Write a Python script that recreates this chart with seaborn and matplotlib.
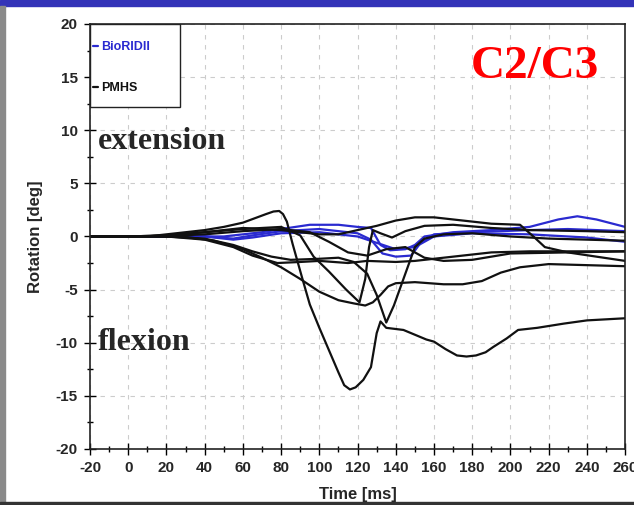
import numpy as np
import pandas as pd
import matplotlib
matplotlib.use("Agg")
import matplotlib.pyplot as plt
import seaborn as sns
from matplotlib.patches import Rectangle
from matplotlib.ticker import MultipleLocator

# ---------------- data ----------------
groups = ["BioRIDII", "PMHS"]
colors = {"BioRIDII": "#2a2ad0", "PMHS": "#111111"}

# PMHS curves
pmhs_a_t = [-20, 0, 10, 20, 30, 40, 50, 60, 66, 72, 76, 79, 81, 83, 86, 91, 95, 100, 105, 110, 113, 116, 119, 123, 127, 130, 132, 135, 144, 156, 160, 166, 172, 177, 182, 187, 191, 198, 204, 214, 228, 240, 260]
pmhs_a_v = [0, 0, 0, 0.2, 0.4, 0.6, 0.9, 1.3, 1.7, 2.1, 2.35, 2.4, 2.1, 1.4, -0.7, -3.9, -6.4, -8.6, -10.7, -12.8, -14.0, -14.4, -14.2, -13.5, -12.3, -9.1, -8.0, -8.6, -8.8, -9.7, -9.9, -10.6, -11.2, -11.3, -11.2, -10.9, -10.4, -9.6, -8.8, -8.6, -8.2, -7.9, -7.7]

pmhs_b_t = [-20, 0, 20, 40, 55, 65, 75, 85, 100, 110, 118, 125, 130, 135, 139, 143, 147, 150, 155, 165, 180, 200, 220, 260]
pmhs_b_v = [0, 0, 0, -0.2, -0.8, -1.4, -1.9, -2.2, -2.1, -2.0, -2.4, -3.5, -5.5, -8.1, -6.5, -4.5, -2.5, -1.0, -0.2, 0.2, 0.3, 0.0, -0.2, -0.4]

pmhs_c_t = [-20, 0, 10, 30, 45, 60, 70, 80, 90, 100, 110, 118, 124, 128, 132, 136, 140, 150, 165, 175, 185, 195, 205, 220, 260]
pmhs_c_v = [0, 0, 0, -0.05, -0.4, -1.2, -2.0, -2.9, -4.0, -5.2, -6.0, -6.3, -6.5, -6.2, -5.5, -4.7, -4.4, -4.3, -4.5, -4.5, -4.2, -3.4, -2.9, -2.6, -2.8]

pmhs_d_t = [-20, 0, 20, 40, 55, 65, 78, 90, 100, 115, 125, 140, 150, 170, 190, 210, 260]
pmhs_d_v = [0, 0, 0, -0.3, -1.0, -1.8, -2.5, -2.4, -2.3, -2.5, -2.3, -2.4, -2.3, -1.9, -1.5, -1.4, -1.4]

pmhs_e_t = [-20, 0, 20, 40, 60, 80, 90, 97, 105, 114, 121, 124, 126, 128, 132, 138, 145, 155, 170, 190, 210, 240, 260]
pmhs_e_v = [0, 0, 0.1, 0.4, 0.7, 0.9, 0.1, -1.9, -3.3, -5.0, -6.2, -4.0, -1.0, 0.6, 0.3, -0.1, 0.5, 1.0, 1.1, 0.8, 0.6, 0.5, 0.4]

pmhs_f_t = [-20, 0, 20, 40, 60, 80, 100, 110, 120, 130, 140, 150, 160, 175, 190, 205, 212, 218, 230, 260]
pmhs_f_v = [0, 0, 0.1, 0.4, 0.8, 0.6, 0.2, 0.2, 0.6, 1.0, 1.5, 1.8, 1.8, 1.5, 1.2, 1.1, 0.0, -1.0, -1.5, -2.3]

pmhs_g_t = [-20, 0, 20, 40, 60, 80, 95, 105, 115, 125, 135, 145, 155, 165, 180, 200, 260]
pmhs_g_v = [0, 0, 0.05, 0.2, 0.5, 0.7, 0.4, -0.5, -1.5, -1.8, -1.2, -1.0, -2.0, -2.3, -2.2, -1.6, -1.4]

# BioRIDII curves
bio_1_t = [-20, 0, 40, 50, 60, 70, 80, 95, 110, 120, 127, 132, 137, 145, 150, 155, 170, 190, 210, 225, 235, 245, 260]
bio_1_v = [0, 0, 0, 0.0, 0.2, 0.4, 0.7, 1.1, 1.1, 0.9, 0.8, -0.8, -1.3, -1.2, -0.8, 0.0, 0.4, 0.6, 0.9, 1.6, 1.9, 1.6, 0.9]

bio_2_t = [-20, 0, 40, 55, 65, 80, 100, 120, 127, 133, 140, 148, 153, 160, 180, 210, 230, 260]
bio_2_v = [0, 0, 0, -0.2, 0.1, 0.5, 0.7, 0.3, -0.3, -1.6, -1.9, -1.8, -0.6, 0.2, 0.4, 0.6, 0.7, 0.5]

bio_3_t = [-20, 0, 40, 55, 65, 80, 100, 120, 130, 140, 150, 160, 180, 210, 240, 260]
bio_3_v = [0, 0, 0, -0.3, -0.1, 0.3, 0.4, 0.0, -0.6, -1.2, -1.0, 0.0, 0.3, 0.2, -0.1, -0.5]

x_ticks = list(range(-20, 261, 20))
y_ticks = list(range(-20, 21, 5))

# ---------------- assemble long table ----------------
curves = [
    ("BioRIDII", "b1", bio_1_t, bio_1_v),
    ("BioRIDII", "b2", bio_2_t, bio_2_v),
    ("BioRIDII", "b3", bio_3_t, bio_3_v),
    ("PMHS", "pa", pmhs_a_t, pmhs_a_v),
    ("PMHS", "pb", pmhs_b_t, pmhs_b_v),
    ("PMHS", "pc", pmhs_c_t, pmhs_c_v),
    ("PMHS", "pd", pmhs_d_t, pmhs_d_v),
    ("PMHS", "pe", pmhs_e_t, pmhs_e_v),
    ("PMHS", "pf", pmhs_f_t, pmhs_f_v),
    ("PMHS", "pg", pmhs_g_t, pmhs_g_v),
]
rows = []
for g, cid, ts, vs in curves:
    for t, v in zip(ts, vs):
        rows.append({"group": g, "curve": cid, "t": t, "v": v})
df = pd.DataFrame(rows)

# ---------------- figure ----------------
sns.set_style("white")
plt.rcParams["font.family"] = ["Liberation Sans", "DejaVu Sans"]
plt.rcParams["axes.unicode_minus"] = False

fig = plt.figure(figsize=(6.34, 5.05), dpi=100)
ax = fig.add_axes([0.142, 0.111, 0.844, 0.8415])

# frame decorations
fig.patches.append(Rectangle((0, 0.988), 1, 0.012, transform=fig.transFigure,
                             color="#3333b8", zorder=0))
fig.patches.append(Rectangle((0, 0), 0.008, 0.988, transform=fig.transFigure,
                             color="#8a8a8a", zorder=0))
fig.patches.append(Rectangle((0, 0), 1, 0.005, transform=fig.transFigure,
                             color="#333333", zorder=0))

sns.lineplot(data=df, x="t", y="v", hue="group", hue_order=groups,
             units="curve", estimator=None, sort=False,
             palette=colors, linewidth=1.6, ax=ax, legend=True)

ax.set_xlim(-20, 260)
ax.set_ylim(-20, 20)
ax.set_xticks(x_ticks)
ax.set_yticks(y_ticks)
ax.xaxis.set_minor_locator(MultipleLocator(10))
ax.yaxis.set_minor_locator(MultipleLocator(2.5))
ax.tick_params(axis="both", which="major", direction="inout", length=8, width=1,
               labelsize=11, pad=5, color="black", bottom=True, left=True)
ax.tick_params(axis="both", which="minor", direction="inout", length=5, width=1,
               color="black", bottom=True, left=True)
for lab in ax.get_xticklabels() + ax.get_yticklabels():
    lab.set_fontweight("bold")

ax.grid(True, which="major", color="#cccccc", linestyle=(0, (4, 5)), linewidth=0.8)
for s in ax.spines.values():
    s.set_color("#222222")
    s.set_linewidth(1.2)

ax.set_xlabel("Time [ms]", fontsize=12, fontweight="bold", labelpad=8)
ax.set_ylabel("Rotation [deg]", fontsize=12, fontweight="bold", labelpad=9)

# legend: box drawn separately, entries without frame
ax.add_patch(Rectangle((0.0, 0.805), 0.1685, 0.195, transform=ax.transAxes,
                       fill=True, facecolor="white", edgecolor="#222222",
                       linewidth=1.0, zorder=4))
handles, labels = ax.get_legend_handles_labels()
leg = ax.legend(handles, labels, loc="upper left",
                bbox_to_anchor=(0.005, 0.960), frameon=False,
                handlelength=0.4, handletextpad=0.25, labelspacing=2.35,
                borderpad=0.0, borderaxespad=0.0,
                prop={"weight": "bold", "size": 9})
leg.set_zorder(5)
for txt, g in zip(leg.get_texts(), labels):
    txt.set_color(colors[g])

# annotations
ax.text(-15.7, 8.2, "extension", fontsize=23, fontweight="bold",
        family=["Liberation Serif", "DejaVu Serif"], ha="left", va="baseline")
ax.text(-15.7, -10.7, "flexion", fontsize=23, fontweight="bold",
        family=["Liberation Serif", "DejaVu Serif"], ha="left", va="baseline")
ax.text(179, 14.9, "C2/C3", fontsize=34, fontweight="bold", color="#ff0000",
        family=["Liberation Serif", "DejaVu Serif"], ha="left", va="baseline")

fig.savefig("out.png", dpi=100)
